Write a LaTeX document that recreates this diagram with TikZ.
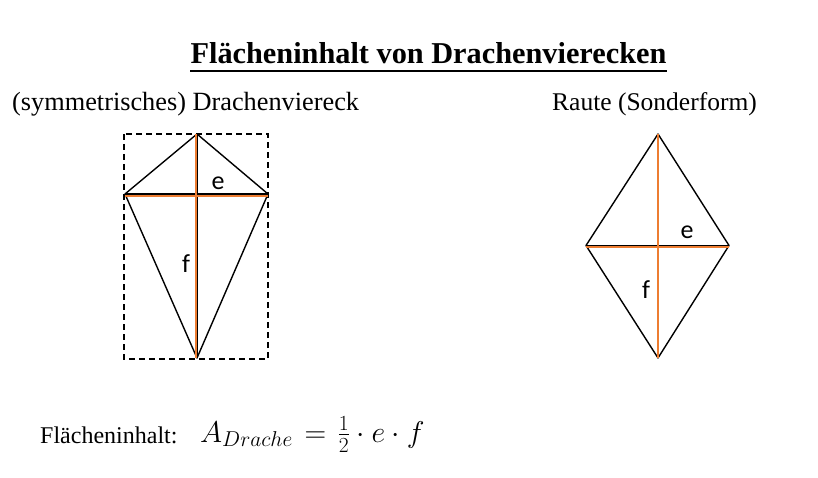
\RequirePackage{fix-cm}
\documentclass[tikz,border=0pt]{standalone}
\usepackage{fontspec}
\setmainfont{Liberation Serif}
\newfontfamily\lblfont{Carlito}
\DeclareMathSizes{30}{30}{21.5}{16}
\definecolor{diagorange}{RGB}{237,125,49}
\begin{document}
\begin{tikzpicture}[x=1pt,y=-1pt,
  edge/.style={black,line width=1.4pt,line join=round},
  diag/.style={diagorange,line width=2pt},
  frame/.style={black,line width=1.4pt,dash pattern=on 6pt off 4pt},
  lbl/.style={font=\lblfont\fontsize{26}{30}\selectfont,inner sep=0pt},
  txt/.style={inner sep=0pt,anchor=base west}]
\useasboundingbox (0,0) rectangle (818,478);
% title
\node[inner sep=0pt,anchor=base,font=\bfseries\fontsize{30.3}{36}\selectfont] (title) at (428.5,64) {Flächeninhalt von Drachenvierecken};
\draw[line width=2pt] ([yshift=-7.5pt]title.base west) -- ([yshift=-7.5pt]title.base east);
% subtitles
\node[txt,font=\fontsize{26.3}{30}\selectfont] (sub1) at (12,111) {(symmetrisches) Drachenviereck};
\node[txt,font=\fontsize{25.5}{30}\selectfont] (sub2) at (552,111) {Raute (Sonderform)};
% kite
\coordinate (kT) at (197,134);
\coordinate (kL) at (125,194);
\coordinate (kR) at (268,194);
\coordinate (kB) at (197,358);
\draw[frame] (124,134) rectangle (268,359);
\draw[edge] (kT) -- (kR) -- (kB) -- (kL) -- cycle;
\draw[edge] (kT) -- (kB);
\draw[edge] (kL) -- (kR);
\draw[diag] ([xshift=-1pt]kT) -- ([xshift=-1pt]kB);
\draw[diag] ([yshift=-1.8pt]kL) -- ([yshift=-1.8pt]kR);
\node[lbl] (ke) at (218,183) {e};
\node[lbl] (kf) at (186,264) {f};
% rhombus
\coordinate (rT) at (658,134);
\coordinate (rL) at (586,245.5);
\coordinate (rR) at (729,245.5);
\coordinate (rB) at (658,358);
\draw[edge] (rT) -- (rR) -- (rB) -- (rL) -- cycle;
\draw[edge] (rT) -- (rB);
\draw[edge] (rL) -- (rR);
\draw[diag] (rT) -- (rB);
\draw[diag] ([yshift=-1.5pt]rL) -- ([yshift=-1.5pt]rR);
\node[lbl] (re) at (687,232) {e};
\node[lbl] (rf) at (646,290) {f};
% formula
\node[txt,font=\fontsize{24}{28}\selectfont] (ftext) at (40,443) {Flächeninhalt:};
\node[txt,font=\fontsize{30}{34}\selectfont] (fmath) at (200,442) {$A_{Drache}\mskip2mu=\mskip2mu\frac{1}{2}\cdot e\cdot f$};
\end{tikzpicture}
\end{document}
